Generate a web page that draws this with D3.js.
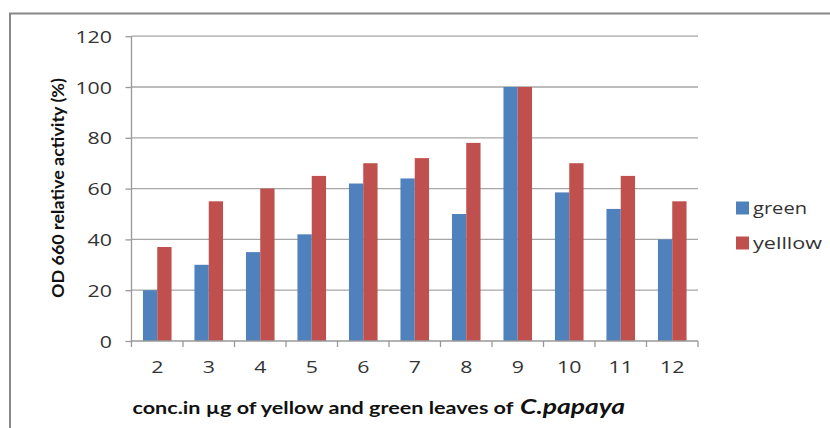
<!DOCTYPE html>
<html>
<head>
<meta charset="utf-8">
<script src="https://cdn.jsdelivr.net/npm/d3@7"></script>
<style>
  html, body { margin: 0; padding: 0; background: #fff; }
  svg { display: block; }
</style>
</head>
<body>
<svg id="chart" width="830" height="428"></svg>
<script>
const categories = ["2","3","4","5","6","7","8","9","10","11","12"];
const seriesNames = ["green","yellow"];
const legendLabels = ["green","yelllow"];
const greenValues = [20,30,35,42,62,64,50,100,58.5,52,40];
const yellowValues = [37,55,60,65,70,72,78,100,70,65,55];
const yTicks = [0,20,40,60,80,100,120];
const colors = ["#4F81BD","#C0504D"];

const rows = categories.map((c,i) => ({cat: c, values: [greenValues[i], yellowValues[i]]}));

const svg = d3.select("#chart");
const plotLeft = 131.5, plotRight = 698, plotTop = 36.2, plotBottom = 341;

// frame
svg.append("path")
  .attr("d", "M10,428 V13.5 H830")
  .attr("fill", "none").attr("stroke", "#888").attr("stroke-width", 2);

const y = d3.scaleLinear().domain([0,120]).range([plotBottom, plotTop]);
const pi = 0.445;
const x0 = d3.scaleBand().domain(categories).range([plotLeft, plotRight]).paddingInner(pi).paddingOuter(pi/2);
const x1 = d3.scaleBand().domain(seriesNames).range([0, x0.bandwidth()]);

// gridlines
svg.append("g").selectAll("line").data(yTicks.filter(t => t > 0)).join("line")
  .attr("x1", plotLeft).attr("x2", plotRight)
  .attr("y1", d => y(d)).attr("y2", d => y(d))
  .attr("stroke", "#a6a6a6").attr("stroke-width", 1.3);

// bars
const groups = svg.append("g").selectAll("g").data(rows).join("g")
  .attr("transform", d => `translate(${x0(d.cat)},0)`);
groups.selectAll("rect").data(d => d.values.map((v,i) => ({name: seriesNames[i], v, i}))).join("rect")
  .attr("x", d => x1(d.name))
  .attr("width", x1.bandwidth())
  .attr("y", d => y(d.v))
  .attr("height", d => y(0) - y(d.v))
  .attr("fill", d => colors[d.i]);

// y axis
const yAxis = svg.append("g").attr("transform", `translate(${plotLeft},0)`)
  .call(d3.axisLeft(y).tickValues(yTicks).tickSize(6).tickPadding(0).tickFormat(d3.format("d")));
yAxis.select(".domain").attr("stroke", "#999").attr("stroke-width", 1.3)
  .attr("d", `M0,${y(120)}V${y(0)}`);
yAxis.selectAll(".tick line").attr("stroke", "#999").attr("stroke-width", 1.3);
yAxis.selectAll(".tick text")
  .attr("x", -19.5)
  .attr("dy", "0.36em")
  .attr("fill", "#333")
  .style("font-family", "'Open Sans', sans-serif")
  .style("font-size", "17px")
  .attr("textLength", d => String(d).length * 12.2)
  .attr("lengthAdjust", "spacingAndGlyphs");

// x axis
const xAxis = svg.append("g").attr("transform", `translate(0,${plotBottom})`)
  .call(d3.axisBottom(x0).tickSize(0).tickPadding(0));
xAxis.select(".domain").attr("stroke", "#999").attr("stroke-width", 1.3)
  .attr("d", `M${plotLeft},0H${plotRight}`);
xAxis.selectAll(".tick text")
  .attr("y", 32)
  .attr("dy", 0)
  .attr("fill", "#333")
  .style("font-family", "'Open Sans', sans-serif")
  .style("font-size", "17px")
  .attr("textLength", d => String(d).length * 12.2)
  .attr("lengthAdjust", "spacingAndGlyphs");
const boundaries = categories.map(c => x0(c) - x0.step()*pi/2).concat([plotRight]);
xAxis.append("g").selectAll("line").data(boundaries).join("line")
  .attr("x1", d => d).attr("x2", d => d).attr("y1", 0).attr("y2", 6)
  .attr("stroke", "#999").attr("stroke-width", 1.3);

// y title
svg.append("text")
  .attr("transform", "translate(64,188) rotate(-90)")
  .attr("text-anchor", "middle")
  .style("font-family", "Lato, sans-serif")
  .style("font-weight", "bold")
  .style("font-size", "17px")
  .attr("fill", "#111")
  .attr("textLength", 220).attr("lengthAdjust", "spacingAndGlyphs")
  .text("OD 660 relative activity (%)");

// x title
svg.append("text")
  .attr("x", 132.5).attr("y", 414)
  .style("font-family", "Lato, sans-serif")
  .style("font-weight", "bold")
  .style("font-size", "17px")
  .attr("fill", "#111")
  .attr("textLength", 381).attr("lengthAdjust", "spacingAndGlyphs")
  .text("conc.in µg of yellow and green leaves of");
svg.append("text")
  .attr("x", 520).attr("y", 414)
  .style("font-family", "Lato, sans-serif")
  .style("font-weight", "bold")
  .style("font-style", "italic")
  .style("font-size", "20px")
  .attr("fill", "#111")
  .attr("textLength", 105).attr("lengthAdjust", "spacingAndGlyphs")
  .text("C.papaya");

// legend
const legend = svg.append("g").selectAll("g").data(legendLabels).join("g")
  .attr("transform", (d,i) => `translate(736,${201.5 + i*35})`);
legend.append("rect").attr("width", 13).attr("height", 13)
  .attr("fill", (d,i) => colors[i]);
legend.append("text")
  .attr("x", 17).attr("y", 12)
  .style("font-family", "'Open Sans', sans-serif")
  .style("font-size", "17px")
  .attr("fill", "#333")
  .attr("textLength", d => d === "green" ? 54 : 69)
  .attr("lengthAdjust", "spacingAndGlyphs")
  .text(d => d);
</script>
</body>
</html>
